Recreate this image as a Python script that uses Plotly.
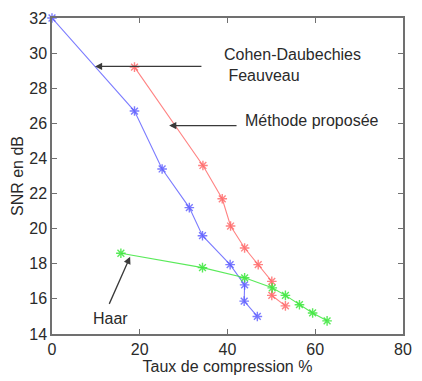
import plotly.graph_objects as go

# Compression ratio (%) vs SNR (dB) for three wavelet schemes
cdf_taux = [0, 18.8, 25.1, 31.3, 34.3, 40.6, 43.9, 43.8, 46.8]
cdf_snr = [32.0, 26.7, 23.4, 21.2, 19.6, 17.95, 16.8, 15.87, 15.0]

prop_taux = [18.8, 34.4, 38.8, 40.7, 43.9, 47.0, 50.1, 50.1, 53.2]
prop_snr = [29.2, 23.6, 21.7, 20.15, 18.9, 17.95, 17.0, 16.2, 15.6]

haar_taux = [15.7, 34.3, 43.9, 50.2, 53.2, 56.4, 59.4, 62.7]
haar_snr = [18.6, 17.78, 17.2, 16.63, 16.2, 15.67, 15.2, 14.75]

x_ticks = [0, 20, 40, 60, 80]
y_ticks = [14, 16, 18, 20, 22, 24, 26, 28, 30, 32]

FONT = "Liberation Sans, Arial, sans-serif"
TXT = "#2a2a2a"
AXIS = "#707070"

fig = go.Figure()

def series(x, y, line_col, marker_col):
    fig.add_trace(go.Scatter(
        x=x, y=y, mode="lines+markers",
        line=dict(color=line_col, width=1.1),
        marker=dict(symbol="asterisk-open", size=8,
                    line=dict(color=marker_col, width=1.4)),
        showlegend=False, cliponaxis=False,
    ))

series(cdf_taux, cdf_snr, "rgba(90,90,255,0.8)", "rgb(50,50,255)")
series(prop_taux, prop_snr, "rgba(255,100,100,0.8)", "rgb(255,60,60)")
series(haar_taux, haar_snr, "rgba(60,230,60,0.85)", "rgb(30,220,30)")

arrow = dict(showarrow=True, arrowhead=2, arrowsize=1.1, arrowwidth=1.3,
             arrowcolor="#3a3a3a", axref="x", ayref="y", text="")
# Arrows pointing at the curves
fig.add_annotation(x=9.8, y=29.24, ax=34.4, ay=29.24, **arrow)
fig.add_annotation(x=26.7, y=25.87, ax=42.4, ay=25.87, **arrow)
fig.add_annotation(x=17.8, y=18.4, ax=12.9, ay=15.63, **arrow)

lbl = dict(showarrow=False, xanchor="left", yanchor="middle",
           font=dict(family=FONT, size=16, color=TXT), align="left")
fig.add_annotation(x=38.7, y=29.3, text="Cohen-Daubechies<br> Feauveau", **lbl)
fig.add_annotation(x=43.6, y=26.15, text="Méthode proposée", **lbl)
fig.add_annotation(x=8.9, y=14.9, text="Haar", **lbl)

axis_common = dict(
    showgrid=False, zeroline=False, showline=True, mirror="ticks",
    linecolor=AXIS, linewidth=1.5, ticks="inside", ticklen=5,
    tickcolor=AXIS, tickwidth=1,
    tickfont=dict(family=FONT, size=16, color=TXT),
)

fig.update_layout(
    width=422, height=381,
    margin=dict(l=52, r=10, t=14, b=47),
    paper_bgcolor="white", plot_bgcolor="white",
    xaxis=dict(range=[0, 80], tickvals=x_ticks,
               title=dict(text="Taux de compression %", standoff=2,
                          font=dict(family=FONT, size=16, color=TXT)),
               **axis_common),
    yaxis=dict(range=[14, 32], tickvals=y_ticks,
               title=dict(text="SNR en dB", standoff=2,
                          font=dict(family=FONT, size=16, color=TXT)),
               **axis_common),
)

fig.write_html("out.html")
